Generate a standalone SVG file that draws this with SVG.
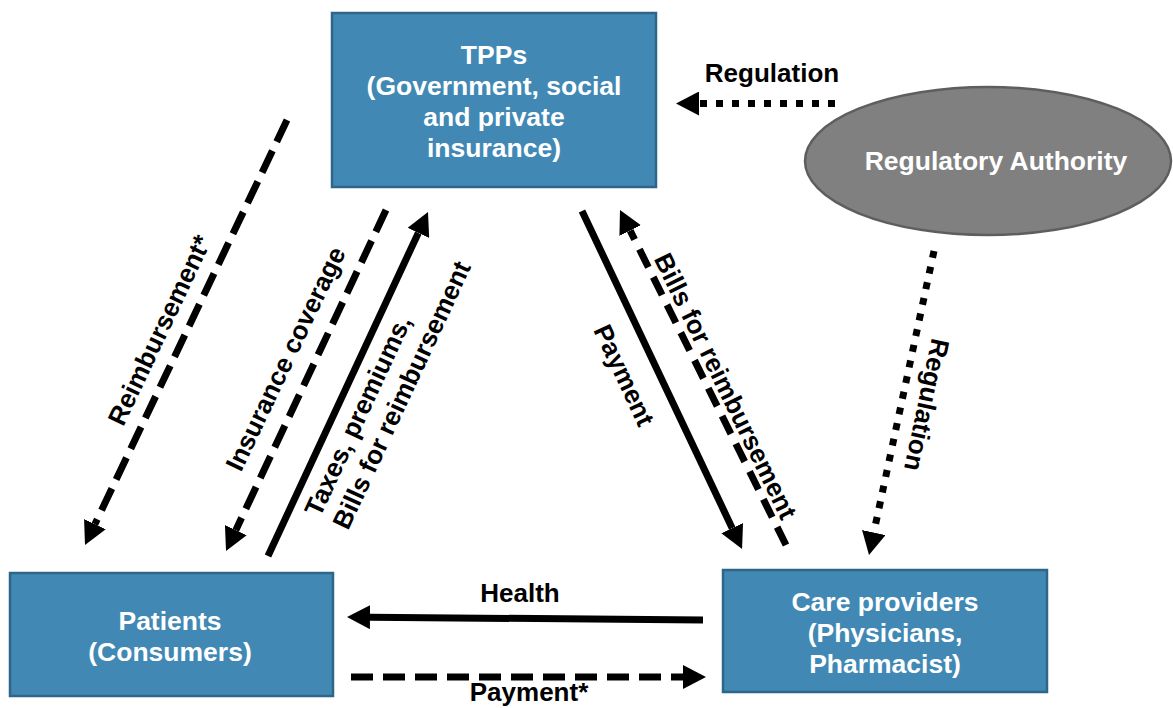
<svg xmlns="http://www.w3.org/2000/svg" width="1173" height="708" viewBox="0 0 1173 708">
<style>
.box{fill:#4189b4;stroke:#2d6689;stroke-width:2.5}
.ell{fill:#808080;stroke:#5e5e5e;stroke-width:2.5}
.nt{font-family:"Liberation Sans",Arial,sans-serif;font-weight:bold;font-size:26.5px;fill:#fff;text-anchor:middle}
.lt{font-family:"Liberation Sans",Arial,sans-serif;font-weight:bold;font-size:26px;fill:#000}
.mid{text-anchor:middle}
.solid{fill:none;stroke:#000;stroke-width:7;marker-end:url(#ah)}
.dash{fill:none;stroke:#000;stroke-width:7;stroke-dasharray:24 10;marker-end:url(#ah)}
.dot{fill:none;stroke:#000;stroke-width:7;stroke-dasharray:7 9;marker-end:url(#ah)}
</style>
<defs>
<marker id="ah" markerUnits="userSpaceOnUse" viewBox="0 0 23 24" markerWidth="23" markerHeight="24" refX="0" refY="12" orient="auto">
<path d="M0,0 L23,12 L0,24 z" fill="#000"/>
</marker>
</defs>
<rect width="1173" height="708" fill="#fff"/>
<g id="tpps">
<rect class="box" x="332" y="13" width="324" height="174"/>
<text class="nt" x="494" y="64">TPPs</text>
<text class="nt" x="494" y="95">(Government, social</text>
<text class="nt" x="494" y="126">and private</text>
<text class="nt" x="494" y="157">insurance)</text>
</g>
<g id="regulatory-authority">
<ellipse class="ell" cx="988" cy="161" rx="183" ry="74"/>
<text class="nt" x="996" y="170">Regulatory Authority</text>
</g>
<g id="patients">
<rect class="box" x="10" y="573" width="323" height="123"/>
<text class="nt" x="170" y="630">Patients</text>
<text class="nt" x="170" y="661">(Consumers)</text>
</g>
<g id="care-providers">
<rect class="box" x="723" y="570" width="324" height="122"/>
<text class="nt" x="885" y="611">Care providers</text>
<text class="nt" x="885" y="642">(Physicians,</text>
<text class="nt" x="885" y="673">Pharmacist)</text>
</g>
<g id="connectors">
<line class="dot" x1="835" y1="103.5" x2="699" y2="103.5"/>
<line class="dash" x1="287" y1="120" x2="94.9" y2="524.2"/>
<line class="dash" x1="386" y1="210" x2="235.8" y2="530.2"/>
<line class="solid" x1="268" y1="556" x2="418.3" y2="232.9"/>
<line class="solid" x1="582" y1="211" x2="732.2" y2="528.2"/>
<line class="dash" style="stroke-dasharray:20 11" x1="786" y1="545" x2="630.2" y2="230.6"/>
<line class="dot" x1="934" y1="251" x2="873.8" y2="532.5"/>
<line class="solid" x1="703" y1="620" x2="370" y2="617.2"/>
<line class="dash" style="stroke-dasharray:22 10" x1="351" y1="677" x2="683" y2="677"/>
</g>
<g id="labels">
<text class="lt mid" x="772" y="82">Regulation</text>
<text class="lt mid" transform="translate(167.6,334) rotate(-64.6)">Reimbursement*</text>
<text class="lt mid" transform="translate(293.6,362.6) rotate(-64.5)">Insurance coverage</text>
<g transform="translate(320,518) rotate(-65)">
<text class="lt" x="0" y="0">Taxes, premiums,</text>
<text class="lt" x="0" y="31">Bills for reimbursement</text>
</g>
<text class="lt mid" transform="translate(616,379) rotate(65)">Payment</text>
<text class="lt mid" transform="translate(717.5,390) rotate(64)">Bills for reimbursement</text>
<text class="lt mid" transform="translate(918,403) rotate(102)">Regulation</text>
<text class="lt mid" x="520" y="602">Health</text>
<text class="lt mid" x="529" y="701">Payment*</text>
</g>
</svg>
